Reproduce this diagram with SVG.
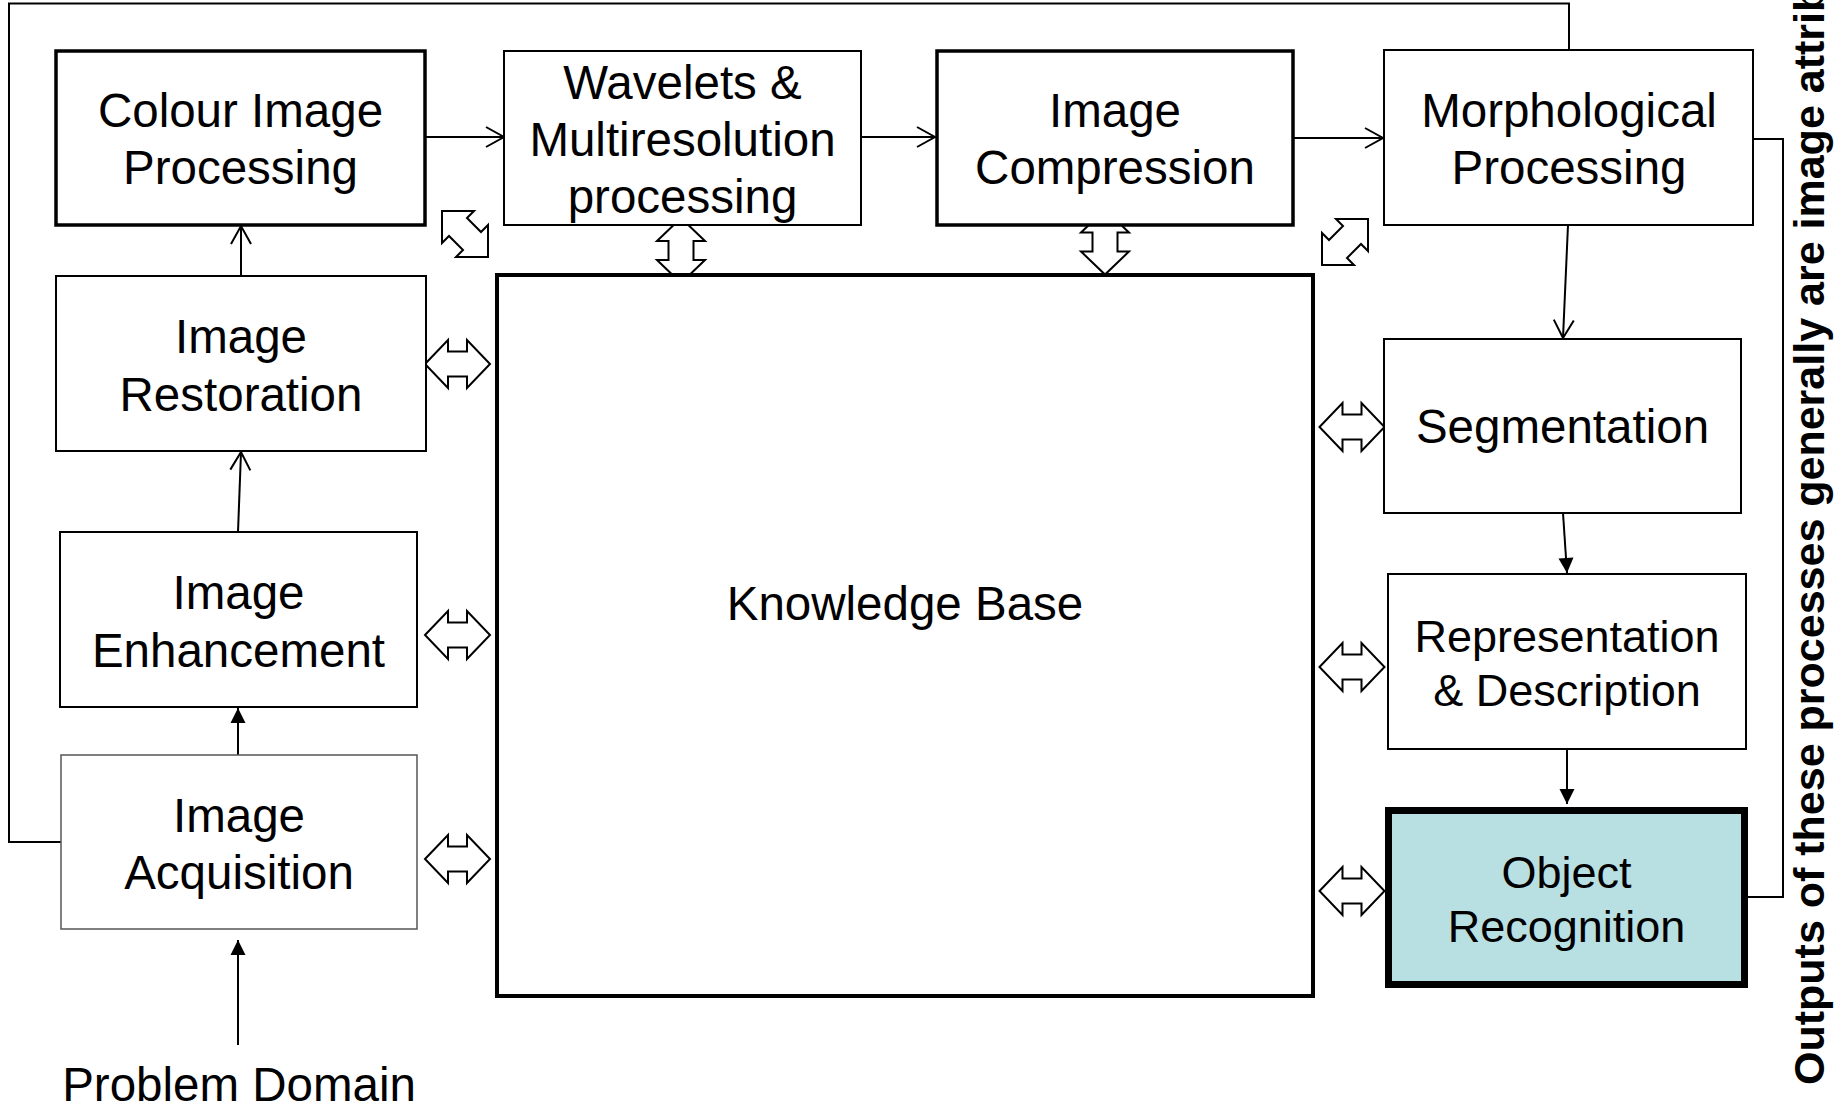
<svg xmlns="http://www.w3.org/2000/svg" xmlns:xlink="http://www.w3.org/1999/xlink" width="1840" height="1106" viewBox="0 0 1840 1106">
  <style>
    .box { fill: #ffffff; stroke: #000000; stroke-width: 2; }
    .thick { stroke-width: 3.5; }
    .kb { fill: #ffffff; stroke: #000000; stroke-width: 4; }
    .acq { fill: #ffffff; stroke: #555555; stroke-width: 1.5; }
    .obj { fill: #B8DFE2; stroke: #000000; stroke-width: 7; }
    .lbl { font-family: "Liberation Sans", Arial, sans-serif; font-size: 47.5px; fill: #000000; text-anchor: middle; }
    .sm { font-size: 45px; }
    .side { font-family: "Liberation Sans", Arial, sans-serif; font-size: 43px; font-weight: bold; fill: #000000; }
    .conn { fill: none; stroke: #000000; stroke-width: 2; }
    .blk { fill: #ffffff; stroke: #000000; stroke-width: 2; stroke-linejoin: miter; }
  </style>
  <defs>
    <marker id="open" markerUnits="userSpaceOnUse" markerWidth="22" markerHeight="24" refX="18" refY="10" orient="auto" overflow="visible">
      <path d="M0,0 L18,10 L0,20" fill="none" stroke="#000000" stroke-width="2"/>
    </marker>
    <marker id="fill" markerUnits="userSpaceOnUse" markerWidth="16" markerHeight="16" refX="15" refY="7.5" orient="auto" overflow="visible">
      <path d="M0,0 L15,7.5 L0,15 z" fill="#000000"/>
    </marker>
    <path id="dbl" d="M-32.5,0 L-9.5,-24 L-9.5,-12.5 L9.5,-12.5 L9.5,-24 L32.5,0 L9.5,24 L9.5,12.5 L-9.5,12.5 L-9.5,24 Z"/>
  </defs>

  <g id="connectors">
    <polyline class="conn" points="61,842 9,842 9,3.5 1569,3.5 1569,50" stroke-width="2.2"/>
    <polyline class="conn" points="1753,139 1783,139 1783,897 1748,897" stroke-width="1.8"/>
    <line class="conn" x1="425" y1="137" x2="504" y2="137" marker-end="url(#open)"/>
    <line class="conn" x1="861" y1="137" x2="935" y2="137" marker-end="url(#open)"/>
    <line class="conn" x1="1293" y1="138" x2="1383" y2="138" marker-end="url(#open)"/>
    <line class="conn" x1="241" y1="276" x2="241" y2="226" marker-end="url(#open)"/>
    <line class="conn" x1="238" y1="532" x2="241" y2="452" marker-end="url(#open)"/>
    <line class="conn" x1="238" y1="755" x2="238" y2="708" marker-end="url(#fill)"/>
    <line class="conn" x1="238" y1="1045" x2="238" y2="940" marker-end="url(#fill)"/>
    <line class="conn" x1="1568" y1="225" x2="1563" y2="338" marker-end="url(#open)"/>
    <line class="conn" x1="1563" y1="513" x2="1567" y2="573" marker-end="url(#fill)"/>
    <line class="conn" x1="1567" y1="749" x2="1567" y2="804" marker-end="url(#fill)"/>
    <!-- block double arrows -->
    <use xlink:href="#dbl" href="#dbl" class="blk" transform="translate(457.5,364)"/>
    <use xlink:href="#dbl" href="#dbl" class="blk" transform="translate(457.5,635)"/>
    <use xlink:href="#dbl" href="#dbl" class="blk" transform="translate(457.5,859)"/>
    <use xlink:href="#dbl" href="#dbl" class="blk" transform="translate(1352,427)"/>
    <use xlink:href="#dbl" href="#dbl" class="blk" transform="translate(1352,667)"/>
    <use xlink:href="#dbl" href="#dbl" class="blk" transform="translate(1352,891)"/>
    <use xlink:href="#dbl" href="#dbl" class="blk" transform="translate(681,250.5) rotate(90)"/>
    <use xlink:href="#dbl" href="#dbl" class="blk" transform="translate(1105,242) rotate(90)"/>
    <polygon class="blk" points="442,211 474,211 467,218 481,232 488,225 488,257 456,257 463,250 449,236 442,243"/>
    <polygon class="blk" points="1368,219 1336,219 1343,226 1329,240 1322,233 1322,265 1354,265 1347,258 1361,244 1368,251"/>
  </g>

  <g id="kb">
    <rect class="kb" x="497" y="275" width="816" height="721"/>
    <text class="lbl" x="905" y="620">Knowledge Base</text>
  </g>

  <g id="colour">
    <rect class="box thick" x="56" y="51" width="369" height="174"/>
    <text class="lbl" x="240.5" y="127">Colour Image</text>
    <text class="lbl" x="240.5" y="184">Processing</text>
  </g>

  <g id="wavelets">
    <rect class="box" x="504" y="51" width="357" height="174"/>
    <text class="lbl" x="682.5" y="99">Wavelets &amp;</text>
    <text class="lbl" x="682.5" y="156">Multiresolution</text>
    <text class="lbl" x="682.5" y="213">processing</text>
  </g>

  <g id="compression">
    <rect class="box thick" x="937" y="51" width="356" height="174"/>
    <text class="lbl" x="1115" y="127">Image</text>
    <text class="lbl" x="1115" y="184">Compression</text>
  </g>

  <g id="morph">
    <rect class="box" x="1384" y="50" width="369" height="175"/>
    <text class="lbl" x="1569" y="127">Morphological</text>
    <text class="lbl" x="1569" y="184">Processing</text>
  </g>

  <g id="restoration">
    <rect class="box" x="56" y="276" width="370" height="175"/>
    <text class="lbl" x="241" y="353">Image</text>
    <text class="lbl" x="241" y="411">Restoration</text>
  </g>

  <g id="enhancement">
    <rect class="box" x="60" y="532" width="357" height="175"/>
    <text class="lbl" x="238.5" y="609">Image</text>
    <text class="lbl" x="238.5" y="667">Enhancement</text>
  </g>

  <g id="acquisition">
    <rect class="acq" x="61" y="755" width="356" height="174"/>
    <text class="lbl" x="239" y="832">Image</text>
    <text class="lbl" x="239" y="889">Acquisition</text>
  </g>

  <g id="problem">
    <text class="lbl" x="239" y="1101">Problem Domain</text>
  </g>

  <g id="segmentation">
    <rect class="box" x="1384" y="339" width="357" height="174"/>
    <text class="lbl" x="1562.5" y="443">Segmentation</text>
  </g>

  <g id="representation">
    <rect class="box" x="1388" y="574" width="358" height="175"/>
    <text class="lbl sm" x="1567" y="652">Representation</text>
    <text class="lbl sm" x="1567" y="706">&amp; Description</text>
  </g>

  <g id="object">
    <rect class="obj" x="1388.5" y="810.5" width="356" height="174"/>
    <text class="lbl sm" x="1566.5" y="888">Object</text>
    <text class="lbl sm" x="1566.5" y="942">Recognition</text>
  </g>

  <g id="note">
    <text class="side" transform="translate(1824,1085) rotate(-90)">Outputs of these processes generally are image attrib</text>
  </g>
</svg>
